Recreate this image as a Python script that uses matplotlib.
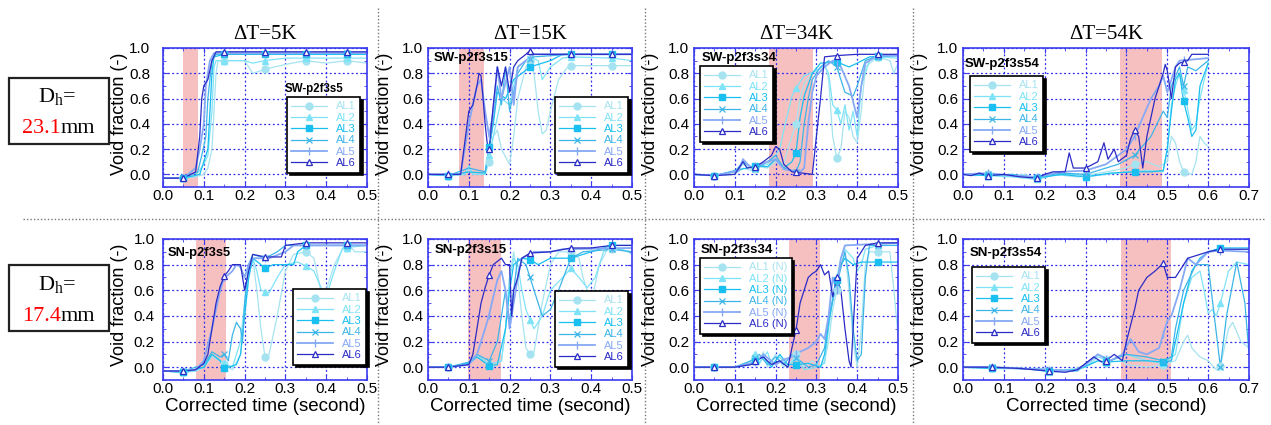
import numpy as np
import matplotlib.pyplot as plt
from matplotlib.lines import Line2D
from matplotlib.patches import Rectangle

# ---- traces: (corrected time [s], void fraction [-]) ----
# SW, dT=5K
sw5_al1 = [(0, -0.03), (0.05, -0.03), (0.08, -0.02), (0.1, 0.0), (0.11, 0.05), (0.12, 0.2), (0.125, 0.5),
           (0.13, 0.8), (0.135, 0.9), (0.2, 0.9), (0.21, 0.85), (0.22, 0.8), (0.24, 0.82), (0.26, 0.84),
           (0.3, 0.87), (0.35, 0.9), (0.4, 0.88), (0.45, 0.9), (0.5, 0.88)]
sw5_al2 = [(0, -0.03), (0.05, -0.03), (0.08, -0.01), (0.1, 0.08), (0.11, 0.15), (0.12, 0.5), (0.125, 0.85),
           (0.13, 0.9), (0.2, 0.9), (0.22, 0.88), (0.25, 0.9), (0.3, 0.92), (0.35, 0.92), (0.5, 0.92)]
sw5_al3 = [(0, -0.03), (0.05, -0.03), (0.09, 0.0), (0.1, 0.1), (0.11, 0.2), (0.115, 0.5), (0.12, 0.8),
           (0.125, 0.93), (0.15, 0.95), (0.5, 0.95)]
sw5_al4 = [(0, -0.03), (0.05, -0.03), (0.085, 0.02), (0.095, 0.15), (0.105, 0.3), (0.11, 0.6), (0.12, 0.9),
           (0.13, 0.95), (0.5, 0.96)]
sw5_al5 = [(0, -0.03), (0.05, -0.03), (0.08, 0.05), (0.09, 0.2), (0.1, 0.4), (0.105, 0.7), (0.115, 0.9),
           (0.125, 0.96), (0.5, 0.96)]
sw5_al6 = [(0, -0.03), (0.05, -0.03), (0.08, 0.02), (0.09, 0.3), (0.095, 0.6), (0.1, 0.7), (0.11, 0.75),
           (0.12, 0.9), (0.13, 0.97), (0.5, 0.97)]

# SW, dT=15K
sw15_al1 = [(0, 0.0), (0.05, -0.01), (0.09, 0.0), (0.1, 0.05), (0.11, 0.0), (0.14, 0.0), (0.15, 0.1), (0.16, 0.3),
            (0.17, 0.35), (0.18, 0.2), (0.2, 0.08), (0.21, 0.3), (0.22, 0.6), (0.24, 0.85), (0.25, 0.9),
            (0.26, 0.8), (0.27, 0.5), (0.28, 0.32), (0.29, 0.35), (0.3, 0.5), (0.32, 0.75), (0.34, 0.84),
            (0.35, 0.86), (0.5, 0.86)]
sw15_al2 = [(0, 0.0), (0.05, -0.01), (0.09, 0.0), (0.1, 0.07), (0.11, 0.0), (0.14, 0.0), (0.15, 0.15), (0.16, 0.3),
            (0.18, 0.6), (0.2, 0.55), (0.22, 0.85), (0.25, 0.93), (0.27, 0.9), (0.28, 0.75), (0.3, 0.85),
            (0.33, 0.92), (0.35, 0.93), (0.45, 0.92), (0.5, 0.9)]
sw15_al3 = [(0, 0.0), (0.05, -0.01), (0.1, 0.02), (0.14, 0.01), (0.15, 0.22), (0.16, 0.4), (0.17, 0.65),
            (0.19, 0.6), (0.21, 0.75), (0.23, 0.8), (0.25, 0.85), (0.3, 0.9), (0.33, 0.95), (0.5, 0.95)]
sw15_al4 = [(0, 0.0), (0.05, -0.01), (0.1, 0.05), (0.14, 0.02), (0.155, 0.3), (0.17, 0.7), (0.18, 0.55),
            (0.19, 0.85), (0.2, 0.5), (0.22, 0.8), (0.24, 0.9), (0.26, 0.93), (0.35, 0.95), (0.5, 0.95)]
sw15_al5 = [(0, 0.0), (0.05, 0.0), (0.08, 0.0), (0.09, 0.2), (0.1, 0.4), (0.11, 0.55), (0.12, 0.7), (0.13, 0.75),
            (0.14, 0.5), (0.15, 0.3), (0.16, 0.5), (0.17, 0.85), (0.18, 0.6), (0.2, 0.85), (0.21, 0.55),
            (0.22, 0.85), (0.24, 0.9), (0.26, 0.95), (0.5, 0.95)]
sw15_al6 = [(0, 0.0), (0.05, 0.0), (0.08, 0.0), (0.09, 0.25), (0.1, 0.5), (0.11, 0.55), (0.12, 0.7), (0.125, 0.8),
            (0.13, 0.78), (0.135, 0.6), (0.14, 0.4), (0.145, 0.25), (0.15, 0.2), (0.16, 0.55), (0.17, 0.85),
            (0.18, 0.7), (0.19, 0.85), (0.2, 0.65), (0.21, 0.85), (0.22, 0.9), (0.24, 0.95), (0.25, 0.98),
            (0.26, 0.95), (0.5, 0.95)]

# SW, dT=34K
sw34_al1 = [(0, 0.0), (0.05, -0.01), (0.1, 0.0), (0.12, 0.05), (0.14, 0.03), (0.16, 0.06), (0.18, 0.05),
            (0.2, 0.1), (0.22, 0.08), (0.23, 0.2), (0.25, 0.4), (0.26, 0.6), (0.27, 0.72), (0.29, 0.8),
            (0.31, 0.84), (0.32, 0.88), (0.33, 0.75), (0.34, 0.3), (0.35, 0.13), (0.36, 0.2), (0.37, 0.5),
            (0.38, 0.45), (0.39, 0.3), (0.4, 0.25), (0.41, 0.5), (0.42, 0.85), (0.45, 0.93), (0.48, 0.9),
            (0.49, 0.8), (0.5, 0.88)]
sw34_al2 = [(0, 0.0), (0.05, -0.01), (0.1, 0.02), (0.12, 0.08), (0.15, 0.05), (0.18, 0.08), (0.2, 0.15),
            (0.21, 0.2), (0.22, 0.35), (0.24, 0.62), (0.25, 0.68), (0.27, 0.78), (0.3, 0.82), (0.32, 0.86),
            (0.33, 0.8), (0.34, 0.55), (0.35, 0.51), (0.36, 0.4), (0.37, 0.55), (0.38, 0.35), (0.39, 0.5),
            (0.4, 0.3), (0.41, 0.7), (0.43, 0.9), (0.45, 0.93), (0.5, 0.92)]
sw34_al3 = [(0, 0.0), (0.05, -0.01), (0.1, 0.03), (0.13, 0.05), (0.15, 0.07), (0.18, 0.06), (0.2, 0.12),
            (0.22, 0.05), (0.24, 0.1), (0.25, 0.17), (0.26, 0.45), (0.27, 0.62), (0.29, 0.8), (0.31, 0.88),
            (0.35, 0.89), (0.38, 0.85), (0.4, 0.88), (0.43, 0.93), (0.5, 0.94)]
sw34_al4 = [(0, 0.0), (0.05, -0.01), (0.1, 0.02), (0.12, 0.1), (0.15, 0.04), (0.18, 0.1), (0.2, 0.15),
            (0.22, 0.05), (0.25, 0.02), (0.26, 0.1), (0.27, 0.4), (0.28, 0.6), (0.29, 0.75), (0.31, 0.85),
            (0.33, 0.9), (0.35, 0.85), (0.37, 0.65), (0.39, 0.62), (0.4, 0.7), (0.42, 0.9), (0.45, 0.94),
            (0.5, 0.94)]
sw34_al5 = [(0, 0.0), (0.05, -0.01), (0.11, 0.03), (0.12, 0.12), (0.14, 0.05), (0.18, 0.1), (0.2, 0.12),
            (0.22, 0.04), (0.26, 0.02), (0.27, 0.05), (0.28, 0.4), (0.29, 0.65), (0.3, 0.78), (0.32, 0.85),
            (0.34, 0.9), (0.36, 0.85), (0.38, 0.7), (0.4, 0.45), (0.41, 0.7), (0.42, 0.88), (0.45, 0.94),
            (0.5, 0.94)]
sw34_al6 = [(0, 0.0), (0.05, -0.01), (0.1, 0.0), (0.12, 0.1), (0.13, 0.05), (0.15, 0.06), (0.17, 0.1),
            (0.19, 0.15), (0.2, 0.22), (0.21, 0.2), (0.22, 0.08), (0.24, 0.02), (0.29, 0.0), (0.3, 0.3),
            (0.31, 0.6), (0.32, 0.93), (0.35, 0.94), (0.4, 0.95), (0.5, 0.95)]

# SW, dT=54K
sw54_al1 = [(0, 0.0), (0.03, -0.01), (0.06, 0.0), (0.1, -0.02), (0.15, 0.0), (0.18, -0.03), (0.22, 0.0),
            (0.28, -0.02), (0.3, -0.01), (0.35, 0.02), (0.4, 0.05), (0.42, 0.08), (0.45, 0.1), (0.48, 0.06),
            (0.5, 0.1), (0.51, 0.3), (0.52, 0.25), (0.53, 0.1), (0.54, 0.02), (0.56, 0.0), (0.57, 0.1),
            (0.58, 0.3), (0.59, 0.25), (0.6, 0.22)]
sw54_al2 = [(0, 0.0), (0.06, -0.01), (0.12, -0.02), (0.18, -0.04), (0.22, -0.01), (0.28, 0.0), (0.3, -0.02),
            (0.35, 0.0), (0.4, 0.02), (0.45, 0.03), (0.49, 0.02), (0.5, 0.2), (0.51, 0.55), (0.52, 0.7),
            (0.53, 0.8), (0.545, 0.6), (0.56, 0.35), (0.57, 0.4), (0.58, 0.6), (0.6, 0.88)]
sw54_al3 = [(0, 0.0), (0.06, -0.01), (0.12, 0.0), (0.18, -0.03), (0.24, 0.0), (0.3, -0.02), (0.36, 0.01),
            (0.42, 0.02), (0.46, 0.02), (0.49, 0.03), (0.5, 0.2), (0.51, 0.5), (0.52, 0.75), (0.53, 0.8),
            (0.54, 0.58), (0.55, 0.45), (0.56, 0.3), (0.57, 0.35), (0.58, 0.7), (0.6, 0.88)]
sw54_al4 = [(0, 0.0), (0.06, 0.0), (0.12, -0.01), (0.18, -0.02), (0.24, 0.01), (0.3, 0.0), (0.35, 0.05),
            (0.38, 0.08), (0.42, 0.15), (0.46, 0.3), (0.49, 0.5), (0.5, 0.45), (0.51, 0.7), (0.53, 0.85),
            (0.54, 0.7), (0.55, 0.85), (0.57, 0.82), (0.6, 0.9)]
sw54_al5 = [(0, 0.0), (0.06, 0.01), (0.12, -0.01), (0.18, -0.02), (0.24, 0.02), (0.3, 0.03), (0.35, 0.08),
            (0.38, 0.15), (0.4, 0.2), (0.42, 0.3), (0.44, 0.45), (0.46, 0.6), (0.48, 0.7), (0.49, 0.78),
            (0.5, 0.65), (0.51, 0.75), (0.52, 0.85), (0.53, 0.9), (0.6, 0.92)]
sw54_al6 = [(0, 0.0), (0.02, -0.01), (0.04, 0.01), (0.06, -0.01), (0.1, 0.0), (0.14, -0.02), (0.18, -0.03),
            (0.2, 0.0), (0.22, 0.02), (0.25, 0.02), (0.26, 0.17), (0.27, 0.05), (0.3, 0.05), (0.33, 0.1),
            (0.345, 0.25), (0.355, 0.12), (0.37, 0.2), (0.38, 0.1), (0.4, 0.15), (0.41, 0.28), (0.42, 0.35),
            (0.43, 0.3), (0.44, 0.05), (0.45, 0.3), (0.47, 0.6), (0.49, 0.8), (0.495, 0.87), (0.5, 0.82),
            (0.51, 0.6), (0.52, 0.85), (0.53, 0.88), (0.55, 0.9), (0.56, 0.95), (0.6, 0.95)]

# SN, dT=5K
sn5_al1 = [(0, -0.03), (0.05, -0.04), (0.08, -0.03), (0.1, 0.0), (0.12, 0.08), (0.14, 0.05), (0.16, 0.0),
           (0.17, -0.02), (0.19, 0.1), (0.2, 0.4), (0.21, 0.7), (0.22, 0.85), (0.23, 0.6), (0.24, 0.3),
           (0.25, 0.08), (0.26, 0.1), (0.28, 0.4), (0.3, 0.75), (0.32, 0.88), (0.35, 0.9), (0.37, 0.85),
           (0.38, 0.7), (0.39, 0.55), (0.4, 0.6), (0.42, 0.8), (0.44, 0.92), (0.46, 0.94), (0.47, 0.9),
           (0.5, 0.9)]
sn5_al2 = [(0, -0.03), (0.05, -0.04), (0.08, -0.03), (0.1, 0.0), (0.12, 0.1), (0.15, 0.03), (0.17, 0.0),
           (0.19, 0.2), (0.2, 0.5), (0.21, 0.8), (0.22, 0.85), (0.23, 0.75), (0.24, 0.6), (0.26, 0.58),
           (0.28, 0.7), (0.3, 0.8), (0.33, 0.82), (0.35, 0.79), (0.37, 0.75), (0.39, 0.6), (0.4, 0.55),
           (0.42, 0.75), (0.44, 0.93), (0.5, 0.95)]
sn5_al3 = [(0, -0.03), (0.05, -0.04), (0.1, 0.0), (0.12, 0.1), (0.14, 0.05), (0.15, -0.01), (0.16, 0.0),
           (0.18, 0.02), (0.19, 0.1), (0.2, 0.4), (0.21, 0.7), (0.22, 0.85), (0.24, 0.8), (0.25, 0.77),
           (0.27, 0.8), (0.32, 0.8), (0.33, 0.9), (0.35, 0.95), (0.5, 0.95)]
sn5_al4 = [(0, -0.03), (0.05, -0.03), (0.1, 0.02), (0.12, 0.12), (0.14, 0.08), (0.15, 0.1), (0.16, 0.05),
           (0.17, 0.25), (0.18, 0.35), (0.19, 0.3), (0.195, 0.2), (0.2, 0.5), (0.21, 0.8), (0.22, 0.88),
           (0.25, 0.85), (0.28, 0.9), (0.3, 0.95), (0.5, 0.95)]
sn5_al5 = [(0, -0.03), (0.05, -0.03), (0.08, -0.02), (0.1, 0.05), (0.12, 0.3), (0.14, 0.6), (0.15, 0.7),
           (0.16, 0.72), (0.17, 0.75), (0.18, 0.8), (0.19, 0.78), (0.2, 0.7), (0.21, 0.8), (0.22, 0.85),
           (0.26, 0.85), (0.3, 0.9), (0.32, 0.95), (0.5, 0.95)]
sn5_al6 = [(0, -0.03), (0.05, -0.03), (0.08, -0.02), (0.1, 0.03), (0.11, 0.1), (0.12, 0.3), (0.13, 0.5),
           (0.14, 0.63), (0.15, 0.71), (0.16, 0.75), (0.17, 0.8), (0.19, 0.8), (0.2, 0.6), (0.21, 0.75),
           (0.22, 0.88), (0.25, 0.86), (0.29, 0.86), (0.3, 0.95), (0.35, 0.97), (0.5, 0.97)]

# SN, dT=15K
sn15_al1 = [(0, 0.0), (0.05, 0.0), (0.1, 0.02), (0.12, 0.08), (0.14, 0.05), (0.16, 0.0), (0.18, 0.05),
            (0.19, 0.3), (0.2, 0.7), (0.21, 0.9), (0.22, 0.7), (0.23, 0.4), (0.24, 0.15), (0.25, 0.1),
            (0.26, 0.12), (0.28, 0.5), (0.3, 0.8), (0.32, 0.9), (0.35, 0.9), (0.37, 0.85), (0.38, 0.7),
            (0.4, 0.5), (0.42, 0.8), (0.44, 0.92), (0.47, 0.93), (0.5, 0.88)]
sn15_al2 = [(0, 0.0), (0.05, 0.0), (0.1, 0.03), (0.12, 0.1), (0.15, 0.02), (0.18, 0.05), (0.19, 0.3),
            (0.2, 0.7), (0.21, 0.85), (0.22, 0.8), (0.23, 0.6), (0.24, 0.45), (0.25, 0.37), (0.26, 0.3),
            (0.28, 0.4), (0.3, 0.6), (0.33, 0.7), (0.35, 0.77), (0.37, 0.7), (0.39, 0.62), (0.41, 0.7),
            (0.43, 0.9), (0.45, 0.93), (0.5, 0.9)]
sn15_al3 = [(0, 0.0), (0.05, 0.0), (0.1, 0.03), (0.12, 0.08), (0.15, 0.01), (0.17, 0.02), (0.19, 0.3),
            (0.2, 0.6), (0.21, 0.8), (0.23, 0.85), (0.25, 0.84), (0.27, 0.8), (0.3, 0.85), (0.35, 0.85),
            (0.38, 0.88), (0.42, 0.92), (0.45, 0.95), (0.5, 0.95)]
sn15_al4 = [(0, 0.0), (0.05, 0.0), (0.1, 0.04), (0.12, 0.1), (0.15, 0.05), (0.17, 0.2), (0.18, 0.4),
            (0.19, 0.6), (0.2, 0.35), (0.21, 0.6), (0.22, 0.85), (0.24, 0.8), (0.26, 0.6), (0.28, 0.4),
            (0.3, 0.45), (0.32, 0.6), (0.35, 0.85), (0.38, 0.9), (0.45, 0.92), (0.5, 0.9)]
sn15_al5 = [(0, 0.0), (0.05, 0.0), (0.1, 0.02), (0.12, 0.1), (0.13, 0.2), (0.14, 0.3), (0.15, 0.41),
            (0.16, 0.55), (0.17, 0.68), (0.18, 0.75), (0.19, 0.6), (0.2, 0.3), (0.21, 0.5), (0.22, 0.7),
            (0.23, 0.85), (0.26, 0.9), (0.3, 0.9), (0.33, 0.92), (0.5, 0.93)]
sn15_al6 = [(0, 0.0), (0.05, 0.0), (0.1, 0.02), (0.11, 0.1), (0.12, 0.3), (0.13, 0.5), (0.14, 0.62),
            (0.15, 0.72), (0.16, 0.8), (0.18, 0.85), (0.19, 0.8), (0.2, 0.8), (0.205, 0.4), (0.21, 0.6),
            (0.22, 0.7), (0.23, 0.85), (0.25, 0.89), (0.3, 0.9), (0.35, 0.93), (0.4, 0.93), (0.45, 0.95),
            (0.5, 0.95)]

# SN, dT=34K
sn34_al1 = [(0, 0.0), (0.05, 0.0), (0.1, 0.0), (0.14, 0.02), (0.15, 0.08), (0.16, 0.02), (0.17, 0.12),
            (0.18, 0.0), (0.2, 0.1), (0.22, 0.0), (0.24, 0.05), (0.25, 0.1), (0.27, 0.0), (0.29, 0.05),
            (0.31, 0.0), (0.32, 0.05), (0.33, 0.2), (0.34, 0.45), (0.35, 0.6), (0.36, 0.8), (0.37, 0.9),
            (0.38, 0.6), (0.39, 0.2), (0.4, 0.0), (0.41, 0.3), (0.42, 0.8), (0.43, 0.9), (0.48, 0.9),
            (0.49, 0.6), (0.5, 0.25)]
sn34_al2 = [(0, 0.0), (0.05, 0.0), (0.1, 0.0), (0.14, 0.05), (0.15, 0.1), (0.16, 0.03), (0.18, 0.12),
            (0.19, 0.02), (0.21, 0.08), (0.23, 0.0), (0.25, 0.08), (0.27, -0.02), (0.3, 0.0), (0.32, 0.03),
            (0.33, 0.3), (0.34, 0.55), (0.35, 0.7), (0.36, 0.85), (0.37, 0.92), (0.39, 0.85), (0.4, 0.75),
            (0.41, 0.8), (0.42, 0.92), (0.45, 0.95), (0.5, 0.95)]
sn34_al3 = [(0, 0.0), (0.05, 0.0), (0.1, 0.0), (0.14, 0.03), (0.15, 0.05), (0.17, 0.08), (0.19, 0.0),
            (0.21, 0.1), (0.23, 0.02), (0.25, 0.02), (0.28, 0.03), (0.31, 0.0), (0.32, 0.1), (0.33, 0.35),
            (0.35, 0.68), (0.36, 0.8), (0.37, 0.85), (0.39, 0.8), (0.41, 0.82), (0.5, 0.82)]
sn34_al4 = [(0, 0.0), (0.05, 0.0), (0.1, 0.0), (0.14, 0.05), (0.16, 0.1), (0.18, 0.02), (0.2, 0.08),
            (0.22, 0.02), (0.24, 0.1), (0.26, 0.05), (0.28, 0.0), (0.3, 0.02), (0.32, 0.15), (0.33, 0.4),
            (0.35, 0.65), (0.37, 0.9), (0.38, 0.7), (0.39, 0.3), (0.4, 0.05), (0.41, 0.1), (0.42, 0.7),
            (0.43, 0.95), (0.5, 0.95)]
sn34_al5 = [(0, 0.0), (0.05, 0.0), (0.1, 0.0), (0.15, 0.04), (0.17, 0.1), (0.2, 0.02), (0.22, 0.06),
            (0.24, 0.08), (0.26, 0.12), (0.28, 0.15), (0.3, 0.2), (0.31, 0.26), (0.32, 0.22), (0.33, 0.4),
            (0.34, 0.7), (0.35, 0.6), (0.36, 0.85), (0.37, 0.95), (0.5, 0.97)]
sn34_al6 = [(0, 0.0), (0.05, 0.0), (0.1, 0.0), (0.14, 0.02), (0.15, 0.05), (0.17, 0.08), (0.19, 0.02),
            (0.21, 0.05), (0.23, 0.0), (0.24, 0.15), (0.25, 0.29), (0.26, 0.5), (0.27, 0.6), (0.28, 0.7),
            (0.29, 0.73), (0.3, 0.75), (0.31, 0.8), (0.32, 0.72), (0.33, 0.75), (0.34, 0.55), (0.35, 0.7),
            (0.36, 0.6), (0.37, 0.3), (0.38, 0.05), (0.385, 0.0), (0.39, 0.3), (0.4, 0.85), (0.42, 0.95),
            (0.45, 0.97), (0.5, 0.97)]

# SN, dT=54K
sn54_al1 = [(0, 0.0), (0.05, 0.0), (0.07, -0.01), (0.1, 0.0), (0.15, -0.01), (0.2, -0.01), (0.21, -0.03),
            (0.25, -0.02), (0.3, 0.0), (0.33, 0.05), (0.35, 0.03), (0.38, 0.08), (0.4, 0.02), (0.45, 0.0),
            (0.49, 0.02), (0.52, 0.05), (0.54, 0.2), (0.55, 0.25), (0.56, 0.15), (0.58, 0.08), (0.6, 0.05),
            (0.62, -0.02), (0.63, 0.01), (0.65, 0.3), (0.66, 0.35), (0.68, 0.2), (0.7, 0.15)]
sn54_al2 = [(0, 0.0), (0.07, -0.01), (0.12, -0.01), (0.18, -0.02), (0.21, -0.04), (0.25, -0.03), (0.3, 0.0),
            (0.33, 0.08), (0.36, 0.05), (0.4, 0.1), (0.45, 0.05), (0.49, 0.03), (0.52, 0.1), (0.54, 0.5),
            (0.56, 0.7), (0.58, 0.75), (0.59, 0.6), (0.6, 0.42), (0.61, 0.45), (0.62, 0.4), (0.63, 0.5),
            (0.65, 0.75), (0.67, 0.82), (0.7, 0.8)]
sn54_al3 = [(0, 0.0), (0.07, -0.01), (0.14, -0.01), (0.21, -0.03), (0.28, -0.02), (0.33, 0.05), (0.35, 0.04),
            (0.4, 0.05), (0.45, 0.05), (0.49, 0.04), (0.51, 0.05), (0.52, 0.2), (0.54, 0.5), (0.56, 0.75),
            (0.58, 0.85), (0.6, 0.9), (0.63, 0.93), (0.7, 0.93)]
sn54_al4 = [(0, 0.0), (0.07, 0.0), (0.14, -0.01), (0.21, -0.02), (0.28, -0.03), (0.33, 0.1), (0.36, 0.05),
            (0.4, 0.1), (0.45, 0.08), (0.49, 0.05), (0.51, 0.08), (0.52, 0.3), (0.54, 0.6), (0.57, 0.8),
            (0.6, 0.8), (0.615, 0.4), (0.63, 0.0), (0.645, 0.4), (0.67, 0.82), (0.69, 0.5), (0.7, 0.1)]
sn54_al5 = [(0, 0.0), (0.07, 0.0), (0.14, -0.01), (0.21, -0.02), (0.27, -0.03), (0.3, 0.02), (0.33, 0.1),
            (0.36, 0.05), (0.39, 0.1), (0.41, 0.22), (0.43, 0.12), (0.45, 0.1), (0.48, 0.15), (0.5, 0.36),
            (0.51, 0.4), (0.53, 0.6), (0.55, 0.85), (0.57, 0.8), (0.6, 0.9), (0.63, 0.91), (0.7, 0.9)]
sn54_al6 = [(0, 0.0), (0.07, 0.0), (0.14, -0.01), (0.21, -0.03), (0.25, -0.04), (0.28, -0.02), (0.3, 0.03),
            (0.32, 0.08), (0.34, 0.04), (0.35, 0.05), (0.37, 0.1), (0.39, 0.05), (0.4, 0.2), (0.42, 0.45),
            (0.43, 0.6), (0.45, 0.7), (0.47, 0.75), (0.49, 0.81), (0.5, 0.7), (0.52, 0.7), (0.53, 0.75),
            (0.55, 0.85), (0.6, 0.9), (0.63, 0.92), (0.7, 0.92)]

labels = ['AL1', 'AL2', 'AL3', 'AL4', 'AL5', 'AL6']
labels_n = ['AL1 (N)', 'AL2 (N)', 'AL3 (N)', 'AL4 (N)', 'AL5 (N)', 'AL6 (N)']
titles = ['\u0394T=5K', '\u0394T=15K', '\u0394T=34K', '\u0394T=54K']
marks_05 = [0.05, 0.15, 0.25, 0.35, 0.45]
marks_06 = [0.06, 0.18, 0.30, 0.42, 0.54]
marks_07 = [0.07, 0.21, 0.35, 0.49, 0.63]

# ---- styling ----
plt.rcParams['font.family'] = ['Liberation Sans', 'DejaVu Sans']
plt.rcParams['mathtext.fontset'] = 'custom'
plt.rcParams['mathtext.rm'] = 'Liberation Serif'

colors = ['#a6e3f0', '#7fe3f7', '#19bff0', '#3db5e8', '#86a9f5', '#2b2bc6']
mstyle = [dict(marker='o', ms=5), dict(marker='^', ms=5), dict(marker='s', ms=5),
          dict(marker='x', ms=5, mew=0.9), dict(marker='|', ms=6, mew=1.0),
          dict(marker='^', ms=5, mfc='white', mew=0.9)]
lws = [0.9, 0.9, 0.9, 0.9, 1.3, 0.9]
frame_c = '#3c3cf0'
pink = '#f7c0c0'

W, H = 1271, 425


def fx(x):
    return x / W


def fy(y):
    return 1 - y / H


lefts = [163, 428, 694, 963]
widths = [204, 204, 204, 286]
rows = [(48, 187), (239, 380)]

panels = [
    dict(r=0, c=0, data=[sw5_al1, sw5_al2, sw5_al3, sw5_al4, sw5_al5, sw5_al6], xmax=0.5, shade=(0.049, 0.087),
         marks=marks_05, tag='SW-p2f3s5', tag_at=(285, 89), tag_fs=8.3, leg_at=(287, 97), lab=labels, ypad=9),
    dict(r=0, c=1, data=[sw15_al1, sw15_al2, sw15_al3, sw15_al4, sw15_al5, sw15_al6], xmax=0.5,
         shade=(0.077, 0.138), marks=marks_05, tag='SW-p2f3s15', tag_at=(434, 58), tag_fs=9.5, leg_at=(555, 97),
         lab=labels, ypad=3.5),
    dict(r=0, c=2, data=[sw34_al1, sw34_al2, sw34_al3, sw34_al4, sw34_al5, sw34_al6], xmax=0.5,
         shade=(0.183, 0.292), marks=marks_05, tag='SW-p2f3s34', tag_at=(702, 58), tag_fs=9.5, leg_at=(700, 66),
         lab=labels, ypad=3.5),
    dict(r=0, c=3, data=[sw54_al1, sw54_al2, sw54_al3, sw54_al4, sw54_al5, sw54_al6], xmax=0.7,
         shade=(0.384, 0.488), marks=marks_06, tag='SW-p2f3s54', tag_at=(965, 64), tag_fs=9.5, leg_at=(970, 76),
         lab=labels, ypad=3.5),
    dict(r=1, c=0, data=[sn5_al1, sn5_al2, sn5_al3, sn5_al4, sn5_al5, sn5_al6], xmax=0.5, shade=(0.082, 0.155),
         marks=marks_05, tag='SN-p2f3s5', tag_at=(168, 253), tag_fs=9.3, leg_at=(293, 289), lab=labels, ypad=6),
    dict(r=1, c=1, data=[sn15_al1, sn15_al2, sn15_al3, sn15_al4, sn15_al5, sn15_al6], xmax=0.5,
         shade=(0.097, 0.178), marks=marks_05, tag='SN-p2f3s15', tag_at=(435, 250), tag_fs=9.5, leg_at=(555, 291),
         lab=labels, ypad=3.5),
    dict(r=1, c=2, data=[sn34_al1, sn34_al2, sn34_al3, sn34_al4, sn34_al5, sn34_al6], xmax=0.5,
         shade=(0.232, 0.310), marks=marks_05, tag='SN-p2f3s34', tag_at=(701, 250), tag_fs=9.5, leg_at=(700, 258),
         lab=labels_n, ypad=3.5),
    dict(r=1, c=3, data=[sn54_al1, sn54_al2, sn54_al3, sn54_al4, sn54_al5, sn54_al6], xmax=0.7,
         shade=(0.387, 0.509), marks=marks_07, tag='SN-p2f3s54', tag_at=(970, 253), tag_fs=9.5, leg_at=(972, 267),
         lab=labels, ypad=3.5),
]

fig = plt.figure(figsize=(W / 100, H / 100), dpi=100)

for p in panels:
    top, bot = rows[p['r']]
    left, width = lefts[p['c']], widths[p['c']]
    ax = fig.add_axes([fx(left), fy(bot), fx(width), (bot - top) / H])
    ax.axvspan(p['shade'][0], p['shade'][1], color=pink, lw=0, zorder=0.5)
    for k, trace in enumerate(p['data']):
        t = np.array([a for a, b in trace])
        v = np.array([b for a, b in trace])
        ax.plot(t, v, color=colors[k], lw=lws[k], zorder=2 + k * 0.1)
        mt = [m for m in p['marks'] if m <= t[-1]]
        st = dict(mstyle[k])
        st.setdefault('mfc', colors[k])
        ax.plot(mt, np.interp(mt, t, v), ls='none', color=colors[k], mec=colors[k], zorder=3, **st)

    ax.set_xlim(0, p['xmax'])
    ax.set_ylim(-0.1, 1.0)
    ax.set_xticks(np.arange(0, p['xmax'] + 0.001, 0.1))
    ax.set_xticks(np.arange(0, p['xmax'] + 0.001, 0.05), minor=True)
    ax.set_yticks(np.arange(0, 1.001, 0.2))
    ax.set_yticks(np.arange(-0.1, 1.001, 0.1), minor=True)
    ax.xaxis.set_major_formatter(plt.FormatStrFormatter('%.1f'))
    ax.yaxis.set_major_formatter(plt.FormatStrFormatter('%.1f'))
    ax.grid(True, which='major', color='#2a2aee', ls=(0, (1.5, 2.0)), lw=0.9)
    for s in ax.spines.values():
        s.set_color(frame_c)
        s.set_linewidth(1.2)
    ax.tick_params(which='both', direction='in', top=True, right=True, color=frame_c, labelsize=11)
    ax.tick_params(which='major', length=3.5)
    ax.tick_params(which='minor', length=2)
    ax.tick_params(axis='x', pad=1.5)
    ax.tick_params(axis='y', pad=p['ypad'])

    ax.set_ylabel('Void fraction (-)', fontsize=13)
    ax.yaxis.set_label_coords(-35 / width, 0.53)
    if p['r'] == 1:
        ax.set_xlabel('Corrected time (second)', fontsize=13.5)
        ax.xaxis.set_label_coords(0.5, -0.13)
    else:
        fig.text(fx(left + width / 2), fy(39), titles[p['c']], family='Liberation Serif', fontsize=15,
                 ha='center', va='baseline')

    fig.text(fx(p['tag_at'][0]), fy(p['tag_at'][1]), p['tag'], fontsize=p['tag_fs'], fontweight='bold',
             ha='left', va='center', zorder=10)

    handles = []
    for k in range(6):
        st = dict(mstyle[k])
        st.setdefault('mfc', colors[k])
        handles.append(Line2D([], [], color=colors[k], lw=lws[k], mec=colors[k], **st))
    leg = ax.legend(handles, p['lab'], loc='upper left', bbox_to_anchor=(fx(p['leg_at'][0]), fy(p['leg_at'][1])),
                    bbox_transform=fig.transFigure, borderaxespad=0, fontsize=8, labelspacing=0.12,
                    borderpad=0.4, handlelength=3.2, handletextpad=0.8, fancybox=False, framealpha=1,
                    edgecolor='black', shadow={'facecolor': 'black', 'edgecolor': 'black', 'alpha': 1})
    leg.get_frame().set_linewidth(1.2)
    leg.set_zorder(20)
    for k, txt in enumerate(leg.get_texts()):
        txt.set_color(colors[k])

# dotted separators between the panels
for x in [378, 645, 913]:
    fig.add_artist(Line2D([fx(x), fx(x)], [fy(8), fy(425)], transform=fig.transFigure, color='#777777',
                          ls=(0, (1, 1.5)), lw=1))
fig.add_artist(Line2D([fx(23), fx(1265)], [fy(219), fy(219)], transform=fig.transFigure, color='#777777',
                      ls=(0, (1, 1.5)), lw=1))

# hydraulic diameter boxes
for (y0, y1, dia, yb1, yb2) in [(78, 144, '23.1', 102, 133), (265, 331, '17.4', 290, 321)]:
    fig.add_artist(Rectangle((fx(9), fy(y1)), fx(100), (y1 - y0) / H, transform=fig.transFigure,
                             fill=False, edgecolor='#222222', lw=1.6))
    fig.text(fx(57), fy(yb1), r'D$_\mathrm{h}$=', family='Liberation Serif', fontsize=16, ha='center',
             va='baseline')
    fig.text(fx(61), fy(yb2), dia, family='Liberation Serif', fontsize=16, color='red', ha='right', va='baseline')
    fig.text(fx(61), fy(yb2), 'mm', family='Liberation Serif', fontsize=16, ha='left', va='baseline')

fig.savefig('out.png', dpi=100)
